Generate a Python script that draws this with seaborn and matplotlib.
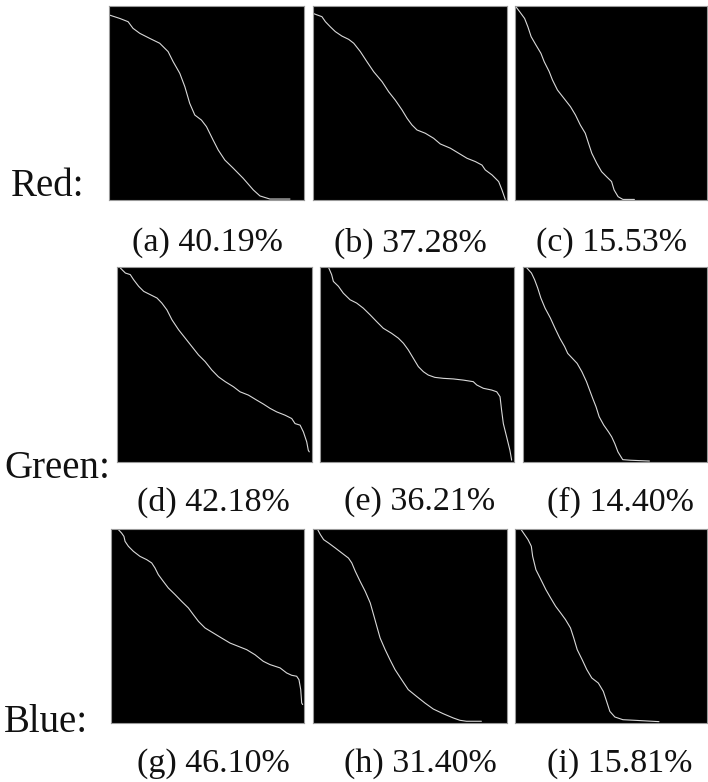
import matplotlib
matplotlib.use("Agg")
import matplotlib.pyplot as plt
import seaborn as sns
import pandas as pd

sns.set_theme(style="white")
plt.rcParams['font.family'] = ['Liberation Serif', 'DejaVu Serif']

# ---------------- data (x: 0..1 left->right, y: 0..1 top->bottom) ----------------
a_x = [0.0, 0.055, 0.098, 0.123, 0.158, 0.209, 0.260, 0.303, 0.329, 0.363, 0.389, 0.414, 0.440, 0.474, 0.500, 0.534, 0.560, 0.594, 0.637, 0.688, 0.740, 0.774, 0.825, 0.928]
a_y = [0.046, 0.064, 0.081, 0.115, 0.141, 0.167, 0.192, 0.235, 0.287, 0.347, 0.416, 0.502, 0.562, 0.588, 0.622, 0.691, 0.742, 0.794, 0.836, 0.888, 0.948, 0.979, 0.995, 0.995]

b_x = [0.0, 0.021, 0.046, 0.064, 0.089, 0.115, 0.149, 0.184, 0.210, 0.244, 0.278, 0.313, 0.356, 0.390, 0.424, 0.459, 0.485, 0.510, 0.536, 0.579, 0.622, 0.656, 0.708, 0.751, 0.794, 0.837, 0.871, 0.888, 0.923, 0.957, 0.974, 0.991]
b_y = [0.038, 0.046, 0.055, 0.081, 0.107, 0.132, 0.155, 0.172, 0.192, 0.235, 0.287, 0.339, 0.390, 0.442, 0.485, 0.536, 0.579, 0.613, 0.639, 0.656, 0.682, 0.711, 0.733, 0.759, 0.785, 0.802, 0.820, 0.845, 0.871, 0.905, 0.948, 0.997]

c_x = [0.007, 0.024, 0.050, 0.067, 0.084, 0.109, 0.135, 0.152, 0.178, 0.195, 0.221, 0.255, 0.289, 0.315, 0.340, 0.366, 0.383, 0.400, 0.426, 0.451, 0.477, 0.503, 0.516, 0.537, 0.562, 0.622]
c_y = [0.007, 0.029, 0.064, 0.107, 0.158, 0.201, 0.244, 0.287, 0.338, 0.381, 0.433, 0.476, 0.519, 0.562, 0.613, 0.656, 0.708, 0.759, 0.811, 0.854, 0.880, 0.905, 0.948, 0.983, 0.997, 0.997]

d_x = [0.017, 0.043, 0.068, 0.085, 0.111, 0.137, 0.171, 0.205, 0.230, 0.256, 0.282, 0.316, 0.350, 0.384, 0.418, 0.452, 0.486, 0.520, 0.555, 0.597, 0.631, 0.674, 0.717, 0.751, 0.785, 0.819, 0.862, 0.896, 0.913, 0.939, 0.956, 0.973, 0.981, 0.986]
d_y = [0.005, 0.031, 0.039, 0.065, 0.099, 0.125, 0.142, 0.159, 0.185, 0.220, 0.271, 0.322, 0.365, 0.408, 0.451, 0.485, 0.528, 0.563, 0.588, 0.614, 0.640, 0.657, 0.683, 0.703, 0.725, 0.743, 0.760, 0.777, 0.803, 0.811, 0.846, 0.897, 0.940, 0.948]

e_x = [0.043, 0.060, 0.069, 0.095, 0.120, 0.155, 0.189, 0.223, 0.258, 0.292, 0.326, 0.369, 0.404, 0.430, 0.455, 0.481, 0.507, 0.533, 0.558, 0.592, 0.636, 0.687, 0.739, 0.790, 0.808, 0.842, 0.885, 0.911, 0.928, 0.936, 0.945, 0.962, 0.979, 0.988]
e_y = [0.0, 0.039, 0.074, 0.099, 0.134, 0.168, 0.185, 0.211, 0.245, 0.280, 0.314, 0.340, 0.365, 0.391, 0.425, 0.468, 0.511, 0.537, 0.554, 0.566, 0.571, 0.574, 0.580, 0.588, 0.605, 0.622, 0.631, 0.640, 0.665, 0.734, 0.803, 0.871, 0.940, 0.991]

f_x = [0.021, 0.046, 0.063, 0.080, 0.097, 0.120, 0.149, 0.174, 0.200, 0.226, 0.243, 0.268, 0.294, 0.320, 0.345, 0.362, 0.379, 0.397, 0.414, 0.439, 0.465, 0.482, 0.499, 0.516, 0.542, 0.585, 0.687]
f_y = [0.005, 0.031, 0.065, 0.108, 0.159, 0.211, 0.262, 0.314, 0.365, 0.408, 0.443, 0.468, 0.494, 0.537, 0.588, 0.631, 0.674, 0.717, 0.768, 0.811, 0.846, 0.871, 0.906, 0.948, 0.988, 0.991, 0.995]

g_x = [0.038, 0.055, 0.067, 0.073, 0.090, 0.116, 0.150, 0.185, 0.211, 0.228, 0.245, 0.271, 0.297, 0.332, 0.366, 0.401, 0.427, 0.453, 0.487, 0.530, 0.573, 0.617, 0.660, 0.703, 0.746, 0.789, 0.824, 0.876, 0.910, 0.936, 0.962, 0.974, 0.983, 0.988, 0.993]
g_y = [0.003, 0.021, 0.038, 0.064, 0.089, 0.115, 0.141, 0.158, 0.175, 0.201, 0.235, 0.270, 0.304, 0.338, 0.373, 0.407, 0.442, 0.476, 0.510, 0.536, 0.562, 0.588, 0.605, 0.622, 0.648, 0.682, 0.699, 0.716, 0.742, 0.754, 0.759, 0.777, 0.828, 0.897, 0.905]

h_x = [0.024, 0.038, 0.055, 0.080, 0.115, 0.149, 0.183, 0.200, 0.218, 0.243, 0.269, 0.295, 0.312, 0.329, 0.346, 0.372, 0.397, 0.423, 0.457, 0.491, 0.534, 0.577, 0.620, 0.671, 0.723, 0.757, 0.791, 0.868]
h_y = [0.003, 0.029, 0.055, 0.072, 0.098, 0.124, 0.150, 0.175, 0.218, 0.270, 0.321, 0.381, 0.441, 0.502, 0.562, 0.622, 0.674, 0.725, 0.777, 0.828, 0.863, 0.897, 0.928, 0.952, 0.974, 0.986, 0.991, 0.991]

i_x = [0.032, 0.050, 0.068, 0.085, 0.092, 0.109, 0.135, 0.161, 0.186, 0.212, 0.238, 0.263, 0.289, 0.306, 0.324, 0.350, 0.374, 0.400, 0.434, 0.460, 0.477, 0.494, 0.520, 0.562, 0.622, 0.750]
i_y = [0.003, 0.029, 0.055, 0.089, 0.141, 0.210, 0.261, 0.313, 0.356, 0.399, 0.433, 0.467, 0.510, 0.562, 0.622, 0.674, 0.725, 0.768, 0.794, 0.837, 0.888, 0.940, 0.969, 0.983, 0.986, 0.993]

captions = ["(a) 40.19%", "(b) 37.28%", "(c) 15.53%",
            "(d) 42.18%", "(e) 36.21%", "(f) 14.40%",
            "(g) 46.10%", "(h) 31.40%", "(i) 15.81%"]
row_labels = ["Red:", "Green:", "Blue:"]

curves = [(a_x, a_y), (b_x, b_y), (c_x, c_y),
          (d_x, d_y), (e_x, e_y), (f_x, f_y),
          (g_x, g_y), (h_x, h_y), (i_x, i_y)]

# ---------------- layout (pixel boxes: left, top, right, bottom) ----------------
W, H = 708, 782
boxes = [(109, 6, 304, 200), (313, 6, 507, 200), (515, 6, 707, 200),
         (117, 267, 312, 462), (320, 267, 514, 462), (523, 267, 707, 462),
         (111, 529, 304, 723), (313, 529, 507, 723), (515, 529, 707, 723)]
cap_pos = [(207, 243), (410, 243), (612, 243),
           (213, 502), (420, 502), (620, 502),
           (213, 764), (420, 764), (620, 764)]
row_pos = [(11, 186), (4, 468), (4, 722)]

fig = plt.figure(figsize=(W / 100, H / 100), dpi=100)
fig.patch.set_facecolor("white")

for (xs, ys), (l, t, r, b) in zip(curves, boxes):
    ax = fig.add_axes([l / W, 1 - b / H, (r - l) / W, (b - t) / H])
    ax.set_facecolor("black")
    df = pd.DataFrame({"x": xs, "y": ys})
    sns.lineplot(data=df, x="x", y="y", ax=ax, sort=False, estimator=None,
                 color="#d9d9d9", linewidth=0.8)
    ax.set_xlim(0, 1)
    ax.set_ylim(1, 0)
    ax.set_xticks([])
    ax.set_yticks([])
    ax.set_xlabel("")
    ax.set_ylabel("")
    for s in ax.spines.values():
        s.set_visible(True)
        s.set_color("#999999")
        s.set_linewidth(0.8)

for txt, (cx, cy) in zip(captions, cap_pos):
    fig.text(cx / W, 1 - cy / H, txt, ha="center", va="center", fontsize=24.5, color="#111111")

for txt, (lx, ly) in zip(row_labels, row_pos):
    fig.text(lx / W, 1 - ly / H, txt, ha="left", va="center", fontsize=28, color="#111111")

fig.savefig("out.png", dpi=100, facecolor="white")
